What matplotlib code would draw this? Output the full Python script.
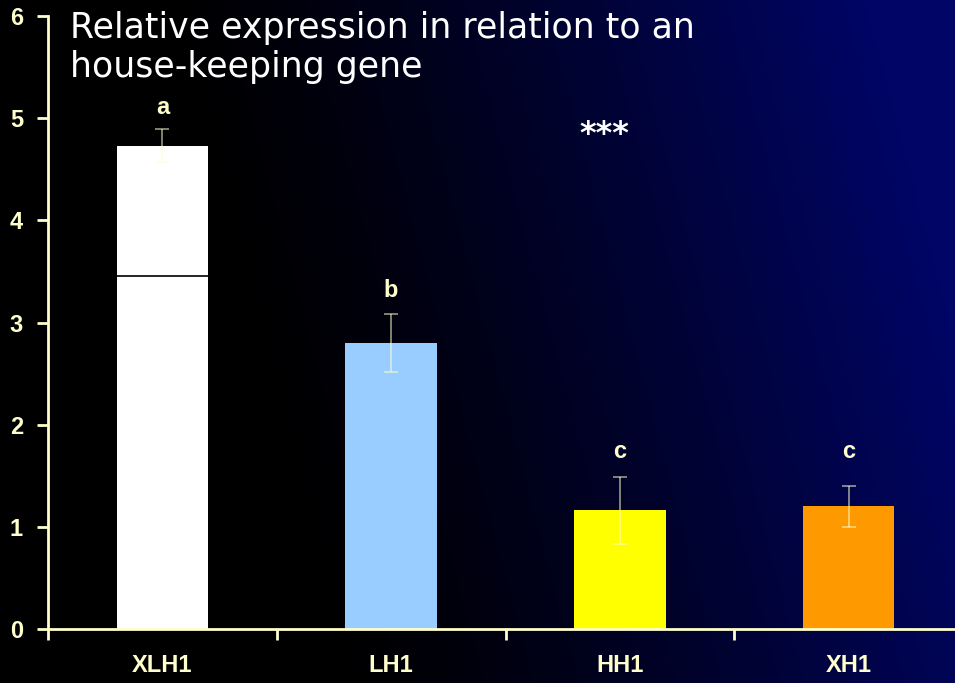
import numpy as np
import matplotlib
matplotlib.use('Agg')
from matplotlib import pyplot as plt

# data
categories = ['XLH1', 'LH1', 'HH1', 'XH1']
values = [4.73, 2.80, 1.16, 1.20]
errors = [0.16, 0.28, 0.33, 0.20]
bar_colors = ['#FFFFFF', '#99CCFF', '#FFFF00', '#FF9900']
letters = ['a', 'b', 'c', 'c']
letter_y = [5.10, 3.31, 1.74, 1.74]
xlh1_line = 3.46
stars_x, stars_y = 1.93, 4.84

cream = '#FFFFCC'
narrow = ['Liberation Sans Narrow', 'Liberation Sans']

fig = plt.figure(figsize=(9.55, 6.83), dpi=100)

# background gradient: black on the left, navy on the right
bg = fig.add_axes([0, 0, 1, 1])
bg.set_axis_off()
xx, yy = np.meshgrid(np.linspace(0, 1, 300), np.linspace(0, 1, 200))
t = np.clip((xx - 0.25) / 0.75 + (yy - 0.5) * 0.25, 0, 1) ** 1.3
rgb = np.zeros((200, 300, 3))
rgb[..., 1] = 0.02 * t
rgb[..., 2] = 0.40 * t
bg.imshow(rgb, aspect='auto', origin='lower', extent=[0, 1, 0, 1])

ax = fig.add_axes([48 / 955, 54 / 683, 915 / 955, 613 / 683])
ax.set_facecolor('none')
x = np.arange(len(categories))
ax.bar(x, values, width=0.4, color=bar_colors, zorder=2)
ax.errorbar(x, values, yerr=errors, fmt='none', ecolor=cream, alpha=0.6,
            elinewidth=1.2, capsize=5, capthick=1.2, zorder=3)
ax.plot([x[0] - 0.2, x[0] + 0.2], [xlh1_line, xlh1_line], color='black', lw=1.2, zorder=3)

for xi, lt, ly in zip(x, letters, letter_y):
    ax.text(xi, ly, lt, ha='center', va='center', color=cream,
            fontsize=17, fontweight='bold', family='Liberation Sans')
ax.text(stars_x, stars_y, '***', ha='center', va='center', color='white',
        fontsize=23, fontweight='bold', family='DejaVu Sans')

ax.set_xlim(-0.5, 3.5)
ax.set_ylim(0, 6)
ax.set_yticks(range(7))
ax.set_xticks([-0.5, 0.5, 1.5, 2.5])
ax.set_xticklabels([])
ax.set_xticks(x, minor=True)
ax.set_xticklabels(categories, minor=True)
ax.tick_params(axis='x', which='minor', length=0, pad=18)
ax.tick_params(axis='x', which='major', length=8, width=2, color=cream, direction='out')
ax.tick_params(axis='y', length=8, width=2, color=cream, direction='out', pad=10)
for lab in ax.get_xticklabels(minor=True) + ax.get_yticklabels():
    lab.set_color(cream)
    lab.set_fontweight('bold')
    lab.set_fontsize(17)
    lab.set_family(narrow)
for s in ['top', 'right']:
    ax.spines[s].set_visible(False)
for s in ['left', 'bottom']:
    ax.spines[s].set_color(cream)
    ax.spines[s].set_linewidth(2)

fig.text(70 / 955, 1 - 11 / 683, 'Relative expression in relation to an\nhouse-keeping gene',
         ha='left', va='top', color='white', fontsize=25, linespacing=1.2,
         family='DejaVu Sans')

fig.savefig('out.png', dpi=100)
